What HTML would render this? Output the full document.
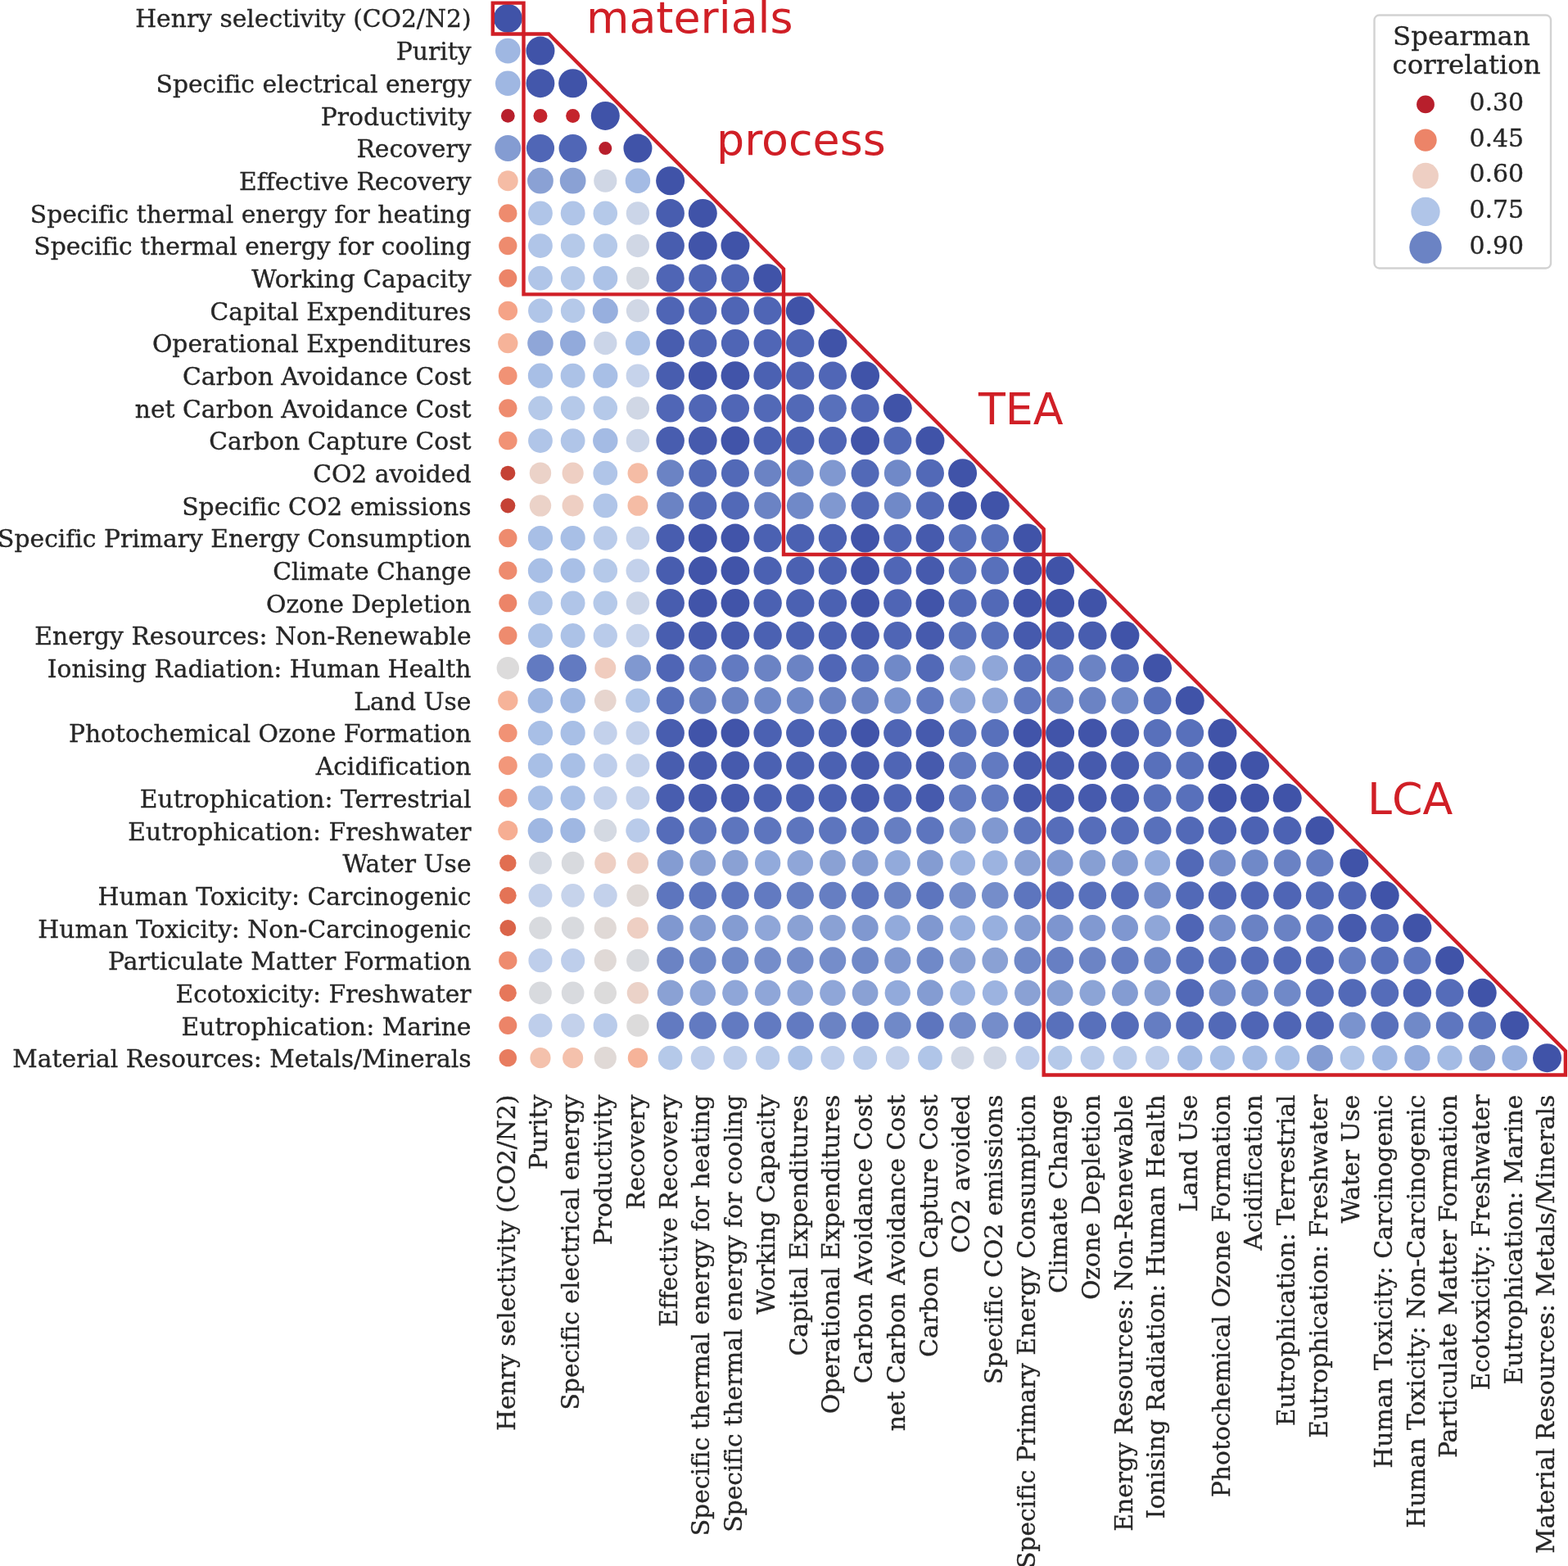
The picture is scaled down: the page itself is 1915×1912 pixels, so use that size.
<!DOCTYPE html>
<html lang="en"><head><meta charset="utf-8"><title>Spearman correlation matrix</title>
<style>html,body{margin:0;padding:0;background:#fff}body{width:1915px;height:1912px;overflow:hidden}svg{display:block}text{font-variant-ligatures:none;font-feature-settings:"liga" 0,"clig" 0;white-space:pre}.t{font-family:"DejaVu Serif","Liberation Serif",serif;font-size:29.78px;fill:#262626}.t text{stroke:#262626;stroke-width:0.35px}.r{font-family:"DejaVu Sans","Liberation Sans",sans-serif;font-size:53.8px;fill:#d01f26}.b{fill:none;stroke:#d01f26;stroke-width:4.4;stroke-linejoin:miter}</style></head><body>
<svg width="1915" height="1912" viewBox="0 0 1915 1912">
<rect width="1915" height="1912" fill="#ffffff"/>
<g>
<circle cx="620.30" cy="22.40" r="17.50" fill="#4053a8"/>
<circle cx="620.30" cy="62.06" r="15.33" fill="#9fb7e2"/>
<circle cx="659.96" cy="62.06" r="17.50" fill="#4053a8"/>
<circle cx="620.30" cy="101.73" r="15.33" fill="#9fb7e2"/>
<circle cx="659.96" cy="101.73" r="17.40" fill="#4357ab"/>
<circle cx="699.63" cy="101.73" r="17.50" fill="#4053a8"/>
<circle cx="620.30" cy="141.39" r="8.40" fill="#b81f2c"/>
<circle cx="659.96" cy="141.39" r="8.50" fill="#c4242c"/>
<circle cx="699.63" cy="141.39" r="8.50" fill="#c4242c"/>
<circle cx="739.29" cy="141.39" r="17.50" fill="#4053a8"/>
<circle cx="620.30" cy="181.06" r="15.98" fill="#849cd2"/>
<circle cx="659.96" cy="181.06" r="17.11" fill="#5066b6"/>
<circle cx="699.63" cy="181.06" r="17.11" fill="#5066b6"/>
<circle cx="739.29" cy="181.06" r="8.01" fill="#b81f2c"/>
<circle cx="778.96" cy="181.06" r="17.50" fill="#4053a8"/>
<circle cx="620.30" cy="220.72" r="12.44" fill="#f5bca5"/>
<circle cx="659.96" cy="220.72" r="15.87" fill="#8aa1d4"/>
<circle cx="699.63" cy="220.72" r="15.87" fill="#8aa1d4"/>
<circle cx="739.29" cy="220.72" r="14.08" fill="#d0d7e5"/>
<circle cx="778.96" cy="220.72" r="15.22" fill="#a4bbe4"/>
<circle cx="818.62" cy="220.72" r="17.50" fill="#4053a8"/>
<circle cx="620.30" cy="260.38" r="11.17" fill="#ee8b6e"/>
<circle cx="659.96" cy="260.38" r="14.89" fill="#b0c5e8"/>
<circle cx="699.63" cy="260.38" r="14.89" fill="#b0c5e8"/>
<circle cx="739.29" cy="260.38" r="14.78" fill="#b5c9e9"/>
<circle cx="778.96" cy="260.38" r="14.20" fill="#cbd5e8"/>
<circle cx="818.62" cy="260.38" r="17.30" fill="#485daf"/>
<circle cx="858.28" cy="260.38" r="17.50" fill="#4053a8"/>
<circle cx="620.30" cy="300.05" r="11.17" fill="#ee8b6e"/>
<circle cx="659.96" cy="300.05" r="14.89" fill="#b0c5e8"/>
<circle cx="699.63" cy="300.05" r="14.78" fill="#b5c9e9"/>
<circle cx="739.29" cy="300.05" r="14.78" fill="#b5c9e9"/>
<circle cx="778.96" cy="300.05" r="14.08" fill="#d0d7e5"/>
<circle cx="818.62" cy="300.05" r="17.30" fill="#485daf"/>
<circle cx="858.28" cy="300.05" r="17.45" fill="#4154a9"/>
<circle cx="897.95" cy="300.05" r="17.50" fill="#4053a8"/>
<circle cx="620.30" cy="339.71" r="11.02" fill="#ec8468"/>
<circle cx="659.96" cy="339.71" r="14.89" fill="#b0c5e8"/>
<circle cx="699.63" cy="339.71" r="14.78" fill="#b5c9e9"/>
<circle cx="739.29" cy="339.71" r="15.00" fill="#acc2e7"/>
<circle cx="778.96" cy="339.71" r="13.96" fill="#d4d9e2"/>
<circle cx="818.62" cy="339.71" r="17.13" fill="#4f65b5"/>
<circle cx="858.28" cy="339.71" r="17.13" fill="#4f65b5"/>
<circle cx="897.95" cy="339.71" r="17.13" fill="#4f65b5"/>
<circle cx="937.61" cy="339.71" r="17.50" fill="#4053a8"/>
<circle cx="620.30" cy="379.38" r="11.75" fill="#f5a387"/>
<circle cx="659.96" cy="379.38" r="14.89" fill="#b0c5e8"/>
<circle cx="699.63" cy="379.38" r="14.78" fill="#b5c9e9"/>
<circle cx="739.29" cy="379.38" r="15.55" fill="#97afde"/>
<circle cx="778.96" cy="379.38" r="14.08" fill="#d0d7e5"/>
<circle cx="818.62" cy="379.38" r="17.13" fill="#4f65b5"/>
<circle cx="858.28" cy="379.38" r="17.13" fill="#4f65b5"/>
<circle cx="897.95" cy="379.38" r="17.13" fill="#4f65b5"/>
<circle cx="937.61" cy="379.38" r="17.13" fill="#4f65b5"/>
<circle cx="977.28" cy="379.38" r="17.50" fill="#4053a8"/>
<circle cx="620.30" cy="419.04" r="12.17" fill="#f6b399"/>
<circle cx="659.96" cy="419.04" r="15.77" fill="#8fa6d8"/>
<circle cx="699.63" cy="419.04" r="15.66" fill="#92aadb"/>
<circle cx="739.29" cy="419.04" r="14.20" fill="#cbd5e8"/>
<circle cx="778.96" cy="419.04" r="15.00" fill="#acc2e7"/>
<circle cx="818.62" cy="419.04" r="17.30" fill="#485daf"/>
<circle cx="858.28" cy="419.04" r="17.13" fill="#4f65b5"/>
<circle cx="897.95" cy="419.04" r="17.13" fill="#4f65b5"/>
<circle cx="937.61" cy="419.04" r="17.11" fill="#5066b6"/>
<circle cx="977.28" cy="419.04" r="17.13" fill="#4f65b5"/>
<circle cx="1016.94" cy="419.04" r="17.50" fill="#4053a8"/>
<circle cx="620.30" cy="458.70" r="11.32" fill="#f19275"/>
<circle cx="659.96" cy="458.70" r="15.11" fill="#a8bfe6"/>
<circle cx="699.63" cy="458.70" r="15.00" fill="#acc2e7"/>
<circle cx="739.29" cy="458.70" r="15.11" fill="#a8bfe6"/>
<circle cx="778.96" cy="458.70" r="14.31" fill="#c6d3eb"/>
<circle cx="818.62" cy="458.70" r="17.30" fill="#485daf"/>
<circle cx="858.28" cy="458.70" r="17.45" fill="#4154a9"/>
<circle cx="897.95" cy="458.70" r="17.45" fill="#4154a9"/>
<circle cx="937.61" cy="458.70" r="17.20" fill="#4b61b2"/>
<circle cx="977.28" cy="458.70" r="17.13" fill="#4f65b5"/>
<circle cx="1016.94" cy="458.70" r="17.11" fill="#5066b6"/>
<circle cx="1056.60" cy="458.70" r="17.50" fill="#4053a8"/>
<circle cx="620.30" cy="498.37" r="11.17" fill="#ee8b6e"/>
<circle cx="659.96" cy="498.37" r="14.78" fill="#b5c9e9"/>
<circle cx="699.63" cy="498.37" r="14.78" fill="#b5c9e9"/>
<circle cx="739.29" cy="498.37" r="14.78" fill="#b5c9e9"/>
<circle cx="778.96" cy="498.37" r="14.08" fill="#d0d7e5"/>
<circle cx="818.62" cy="498.37" r="17.11" fill="#5066b6"/>
<circle cx="858.28" cy="498.37" r="17.11" fill="#5066b6"/>
<circle cx="897.95" cy="498.37" r="17.11" fill="#5066b6"/>
<circle cx="937.61" cy="498.37" r="17.06" fill="#5269b7"/>
<circle cx="977.28" cy="498.37" r="17.06" fill="#5269b7"/>
<circle cx="1016.94" cy="498.37" r="16.91" fill="#5870bb"/>
<circle cx="1056.60" cy="498.37" r="17.11" fill="#5066b6"/>
<circle cx="1096.27" cy="498.37" r="17.50" fill="#4053a8"/>
<circle cx="620.30" cy="538.03" r="11.32" fill="#f19275"/>
<circle cx="659.96" cy="538.03" r="14.89" fill="#b0c5e8"/>
<circle cx="699.63" cy="538.03" r="14.89" fill="#b0c5e8"/>
<circle cx="739.29" cy="538.03" r="15.22" fill="#a4bbe4"/>
<circle cx="778.96" cy="538.03" r="14.20" fill="#cbd5e8"/>
<circle cx="818.62" cy="538.03" r="17.30" fill="#485daf"/>
<circle cx="858.28" cy="538.03" r="17.35" fill="#465aad"/>
<circle cx="897.95" cy="538.03" r="17.45" fill="#4154a9"/>
<circle cx="937.61" cy="538.03" r="17.20" fill="#4b61b2"/>
<circle cx="977.28" cy="538.03" r="17.20" fill="#4b61b2"/>
<circle cx="1016.94" cy="538.03" r="17.13" fill="#4f65b5"/>
<circle cx="1056.60" cy="538.03" r="17.45" fill="#4154a9"/>
<circle cx="1096.27" cy="538.03" r="17.06" fill="#5269b7"/>
<circle cx="1135.93" cy="538.03" r="17.50" fill="#4053a8"/>
<circle cx="620.30" cy="577.70" r="9.05" fill="#c54235"/>
<circle cx="659.96" cy="577.70" r="13.22" fill="#ebd2c8"/>
<circle cx="699.63" cy="577.70" r="13.09" fill="#eecfc3"/>
<circle cx="739.29" cy="577.70" r="14.89" fill="#b0c5e8"/>
<circle cx="778.96" cy="577.70" r="12.44" fill="#f5bca5"/>
<circle cx="818.62" cy="577.70" r="16.50" fill="#6b83c4"/>
<circle cx="858.28" cy="577.70" r="17.06" fill="#5269b7"/>
<circle cx="897.95" cy="577.70" r="17.06" fill="#5269b7"/>
<circle cx="937.61" cy="577.70" r="16.50" fill="#6b83c4"/>
<circle cx="977.28" cy="577.70" r="16.40" fill="#7089c8"/>
<circle cx="1016.94" cy="577.70" r="16.09" fill="#8098d0"/>
<circle cx="1056.60" cy="577.70" r="17.06" fill="#5269b7"/>
<circle cx="1096.27" cy="577.70" r="16.40" fill="#7089c8"/>
<circle cx="1135.93" cy="577.70" r="17.06" fill="#5269b7"/>
<circle cx="1175.60" cy="577.70" r="17.50" fill="#4053a8"/>
<circle cx="620.30" cy="617.36" r="9.05" fill="#c54235"/>
<circle cx="659.96" cy="617.36" r="13.22" fill="#ebd2c8"/>
<circle cx="699.63" cy="617.36" r="13.09" fill="#eecfc3"/>
<circle cx="739.29" cy="617.36" r="14.89" fill="#b0c5e8"/>
<circle cx="778.96" cy="617.36" r="12.44" fill="#f5bca5"/>
<circle cx="818.62" cy="617.36" r="16.50" fill="#6b83c4"/>
<circle cx="858.28" cy="617.36" r="17.06" fill="#5269b7"/>
<circle cx="897.95" cy="617.36" r="17.06" fill="#5269b7"/>
<circle cx="937.61" cy="617.36" r="16.50" fill="#6b83c4"/>
<circle cx="977.28" cy="617.36" r="16.40" fill="#7089c8"/>
<circle cx="1016.94" cy="617.36" r="16.09" fill="#8098d0"/>
<circle cx="1056.60" cy="617.36" r="17.06" fill="#5269b7"/>
<circle cx="1096.27" cy="617.36" r="16.40" fill="#7089c8"/>
<circle cx="1135.93" cy="617.36" r="17.06" fill="#5269b7"/>
<circle cx="1175.60" cy="617.36" r="17.47" fill="#4053a8"/>
<circle cx="1215.26" cy="617.36" r="17.50" fill="#4053a8"/>
<circle cx="620.30" cy="657.02" r="11.17" fill="#ee8b6e"/>
<circle cx="659.96" cy="657.02" r="15.11" fill="#a8bfe6"/>
<circle cx="699.63" cy="657.02" r="15.11" fill="#a8bfe6"/>
<circle cx="739.29" cy="657.02" r="14.66" fill="#b9cbea"/>
<circle cx="778.96" cy="657.02" r="14.31" fill="#c6d3eb"/>
<circle cx="818.62" cy="657.02" r="17.30" fill="#485daf"/>
<circle cx="858.28" cy="657.02" r="17.45" fill="#4154a9"/>
<circle cx="897.95" cy="657.02" r="17.45" fill="#4154a9"/>
<circle cx="937.61" cy="657.02" r="17.20" fill="#4b61b2"/>
<circle cx="977.28" cy="657.02" r="17.20" fill="#4b61b2"/>
<circle cx="1016.94" cy="657.02" r="17.20" fill="#4b61b2"/>
<circle cx="1056.60" cy="657.02" r="17.45" fill="#4154a9"/>
<circle cx="1096.27" cy="657.02" r="17.11" fill="#5066b6"/>
<circle cx="1135.93" cy="657.02" r="17.35" fill="#465aad"/>
<circle cx="1175.60" cy="657.02" r="16.91" fill="#5870bb"/>
<circle cx="1215.26" cy="657.02" r="16.91" fill="#5870bb"/>
<circle cx="1254.92" cy="657.02" r="17.50" fill="#4053a8"/>
<circle cx="620.30" cy="696.69" r="11.17" fill="#ee8b6e"/>
<circle cx="659.96" cy="696.69" r="15.11" fill="#a8bfe6"/>
<circle cx="699.63" cy="696.69" r="15.11" fill="#a8bfe6"/>
<circle cx="739.29" cy="696.69" r="14.78" fill="#b5c9e9"/>
<circle cx="778.96" cy="696.69" r="14.43" fill="#c3d1eb"/>
<circle cx="818.62" cy="696.69" r="17.30" fill="#485daf"/>
<circle cx="858.28" cy="696.69" r="17.45" fill="#4154a9"/>
<circle cx="897.95" cy="696.69" r="17.45" fill="#4154a9"/>
<circle cx="937.61" cy="696.69" r="17.20" fill="#4b61b2"/>
<circle cx="977.28" cy="696.69" r="17.20" fill="#4b61b2"/>
<circle cx="1016.94" cy="696.69" r="17.20" fill="#4b61b2"/>
<circle cx="1056.60" cy="696.69" r="17.45" fill="#4154a9"/>
<circle cx="1096.27" cy="696.69" r="17.11" fill="#5066b6"/>
<circle cx="1135.93" cy="696.69" r="17.35" fill="#465aad"/>
<circle cx="1175.60" cy="696.69" r="16.91" fill="#5870bb"/>
<circle cx="1215.26" cy="696.69" r="16.91" fill="#5870bb"/>
<circle cx="1254.92" cy="696.69" r="17.45" fill="#4154a9"/>
<circle cx="1294.59" cy="696.69" r="17.50" fill="#4053a8"/>
<circle cx="620.30" cy="736.35" r="11.02" fill="#ec8468"/>
<circle cx="659.96" cy="736.35" r="14.89" fill="#b0c5e8"/>
<circle cx="699.63" cy="736.35" r="14.89" fill="#b0c5e8"/>
<circle cx="739.29" cy="736.35" r="14.78" fill="#b5c9e9"/>
<circle cx="778.96" cy="736.35" r="14.20" fill="#cbd5e8"/>
<circle cx="818.62" cy="736.35" r="17.30" fill="#485daf"/>
<circle cx="858.28" cy="736.35" r="17.45" fill="#4154a9"/>
<circle cx="897.95" cy="736.35" r="17.45" fill="#4154a9"/>
<circle cx="937.61" cy="736.35" r="17.20" fill="#4b61b2"/>
<circle cx="977.28" cy="736.35" r="17.20" fill="#4b61b2"/>
<circle cx="1016.94" cy="736.35" r="17.20" fill="#4b61b2"/>
<circle cx="1056.60" cy="736.35" r="17.45" fill="#4154a9"/>
<circle cx="1096.27" cy="736.35" r="17.13" fill="#4f65b5"/>
<circle cx="1135.93" cy="736.35" r="17.45" fill="#4154a9"/>
<circle cx="1175.60" cy="736.35" r="17.06" fill="#5269b7"/>
<circle cx="1215.26" cy="736.35" r="17.06" fill="#5269b7"/>
<circle cx="1254.92" cy="736.35" r="17.45" fill="#4154a9"/>
<circle cx="1294.59" cy="736.35" r="17.47" fill="#4053a8"/>
<circle cx="1334.25" cy="736.35" r="17.50" fill="#4053a8"/>
<circle cx="620.30" cy="776.02" r="11.17" fill="#ee8b6e"/>
<circle cx="659.96" cy="776.02" r="15.00" fill="#acc2e7"/>
<circle cx="699.63" cy="776.02" r="15.00" fill="#acc2e7"/>
<circle cx="739.29" cy="776.02" r="14.66" fill="#b9cbea"/>
<circle cx="778.96" cy="776.02" r="14.31" fill="#c6d3eb"/>
<circle cx="818.62" cy="776.02" r="17.30" fill="#485daf"/>
<circle cx="858.28" cy="776.02" r="17.35" fill="#465aad"/>
<circle cx="897.95" cy="776.02" r="17.35" fill="#465aad"/>
<circle cx="937.61" cy="776.02" r="17.20" fill="#4b61b2"/>
<circle cx="977.28" cy="776.02" r="17.20" fill="#4b61b2"/>
<circle cx="1016.94" cy="776.02" r="17.20" fill="#4b61b2"/>
<circle cx="1056.60" cy="776.02" r="17.35" fill="#465aad"/>
<circle cx="1096.27" cy="776.02" r="17.13" fill="#4f65b5"/>
<circle cx="1135.93" cy="776.02" r="17.35" fill="#465aad"/>
<circle cx="1175.60" cy="776.02" r="16.91" fill="#5870bb"/>
<circle cx="1215.26" cy="776.02" r="16.91" fill="#5870bb"/>
<circle cx="1254.92" cy="776.02" r="17.35" fill="#465aad"/>
<circle cx="1294.59" cy="776.02" r="17.30" fill="#485daf"/>
<circle cx="1334.25" cy="776.02" r="17.30" fill="#485daf"/>
<circle cx="1373.92" cy="776.02" r="17.50" fill="#4053a8"/>
<circle cx="620.30" cy="815.68" r="13.71" fill="#dcdbdb"/>
<circle cx="659.96" cy="815.68" r="16.70" fill="#627ac1"/>
<circle cx="699.63" cy="815.68" r="16.70" fill="#627ac1"/>
<circle cx="739.29" cy="815.68" r="12.96" fill="#f0ccbe"/>
<circle cx="778.96" cy="815.68" r="16.09" fill="#8098d0"/>
<circle cx="818.62" cy="815.68" r="17.13" fill="#4f65b5"/>
<circle cx="858.28" cy="815.68" r="16.70" fill="#627ac1"/>
<circle cx="897.95" cy="815.68" r="16.70" fill="#627ac1"/>
<circle cx="937.61" cy="815.68" r="16.50" fill="#6b83c4"/>
<circle cx="977.28" cy="815.68" r="16.50" fill="#6b83c4"/>
<circle cx="1016.94" cy="815.68" r="17.11" fill="#5066b6"/>
<circle cx="1056.60" cy="815.68" r="16.91" fill="#5870bb"/>
<circle cx="1096.27" cy="815.68" r="16.40" fill="#7089c8"/>
<circle cx="1135.93" cy="815.68" r="17.06" fill="#5269b7"/>
<circle cx="1175.60" cy="815.68" r="15.77" fill="#8fa6d8"/>
<circle cx="1215.26" cy="815.68" r="15.77" fill="#8fa6d8"/>
<circle cx="1254.92" cy="815.68" r="16.91" fill="#5870bb"/>
<circle cx="1294.59" cy="815.68" r="16.70" fill="#627ac1"/>
<circle cx="1334.25" cy="815.68" r="16.50" fill="#6b83c4"/>
<circle cx="1373.92" cy="815.68" r="17.06" fill="#5269b7"/>
<circle cx="1413.58" cy="815.68" r="17.50" fill="#4053a8"/>
<circle cx="620.30" cy="855.34" r="12.17" fill="#f6b399"/>
<circle cx="659.96" cy="855.34" r="15.33" fill="#9fb7e2"/>
<circle cx="699.63" cy="855.34" r="15.33" fill="#9fb7e2"/>
<circle cx="739.29" cy="855.34" r="13.34" fill="#e7d5ce"/>
<circle cx="778.96" cy="855.34" r="14.89" fill="#b0c5e8"/>
<circle cx="818.62" cy="855.34" r="16.91" fill="#5870bb"/>
<circle cx="858.28" cy="855.34" r="16.50" fill="#6b83c4"/>
<circle cx="897.95" cy="855.34" r="16.50" fill="#6b83c4"/>
<circle cx="937.61" cy="855.34" r="16.40" fill="#7089c8"/>
<circle cx="977.28" cy="855.34" r="16.40" fill="#7089c8"/>
<circle cx="1016.94" cy="855.34" r="16.50" fill="#6b83c4"/>
<circle cx="1056.60" cy="855.34" r="16.50" fill="#6b83c4"/>
<circle cx="1096.27" cy="855.34" r="16.19" fill="#7a93ce"/>
<circle cx="1135.93" cy="855.34" r="16.70" fill="#627ac1"/>
<circle cx="1175.60" cy="855.34" r="15.77" fill="#8fa6d8"/>
<circle cx="1215.26" cy="855.34" r="15.77" fill="#8fa6d8"/>
<circle cx="1254.92" cy="855.34" r="16.70" fill="#627ac1"/>
<circle cx="1294.59" cy="855.34" r="16.50" fill="#6b83c4"/>
<circle cx="1334.25" cy="855.34" r="16.50" fill="#6b83c4"/>
<circle cx="1373.92" cy="855.34" r="16.40" fill="#7089c8"/>
<circle cx="1413.58" cy="855.34" r="16.91" fill="#5870bb"/>
<circle cx="1453.24" cy="855.34" r="17.50" fill="#4053a8"/>
<circle cx="620.30" cy="895.01" r="11.32" fill="#f19275"/>
<circle cx="659.96" cy="895.01" r="15.11" fill="#a8bfe6"/>
<circle cx="699.63" cy="895.01" r="15.11" fill="#a8bfe6"/>
<circle cx="739.29" cy="895.01" r="14.43" fill="#c3d1eb"/>
<circle cx="778.96" cy="895.01" r="14.43" fill="#c3d1eb"/>
<circle cx="818.62" cy="895.01" r="17.30" fill="#485daf"/>
<circle cx="858.28" cy="895.01" r="17.45" fill="#4154a9"/>
<circle cx="897.95" cy="895.01" r="17.45" fill="#4154a9"/>
<circle cx="937.61" cy="895.01" r="17.20" fill="#4b61b2"/>
<circle cx="977.28" cy="895.01" r="17.20" fill="#4b61b2"/>
<circle cx="1016.94" cy="895.01" r="17.20" fill="#4b61b2"/>
<circle cx="1056.60" cy="895.01" r="17.45" fill="#4154a9"/>
<circle cx="1096.27" cy="895.01" r="17.13" fill="#4f65b5"/>
<circle cx="1135.93" cy="895.01" r="17.35" fill="#465aad"/>
<circle cx="1175.60" cy="895.01" r="16.91" fill="#5870bb"/>
<circle cx="1215.26" cy="895.01" r="16.91" fill="#5870bb"/>
<circle cx="1254.92" cy="895.01" r="17.45" fill="#4154a9"/>
<circle cx="1294.59" cy="895.01" r="17.45" fill="#4154a9"/>
<circle cx="1334.25" cy="895.01" r="17.45" fill="#4154a9"/>
<circle cx="1373.92" cy="895.01" r="17.30" fill="#485daf"/>
<circle cx="1413.58" cy="895.01" r="16.91" fill="#5870bb"/>
<circle cx="1453.24" cy="895.01" r="16.91" fill="#5870bb"/>
<circle cx="1492.91" cy="895.01" r="17.50" fill="#4053a8"/>
<circle cx="620.30" cy="934.67" r="11.46" fill="#f2977a"/>
<circle cx="659.96" cy="934.67" r="15.11" fill="#a8bfe6"/>
<circle cx="699.63" cy="934.67" r="15.11" fill="#a8bfe6"/>
<circle cx="739.29" cy="934.67" r="14.55" fill="#beceeb"/>
<circle cx="778.96" cy="934.67" r="14.43" fill="#c3d1eb"/>
<circle cx="818.62" cy="934.67" r="17.30" fill="#485daf"/>
<circle cx="858.28" cy="934.67" r="17.35" fill="#465aad"/>
<circle cx="897.95" cy="934.67" r="17.35" fill="#465aad"/>
<circle cx="937.61" cy="934.67" r="17.20" fill="#4b61b2"/>
<circle cx="977.28" cy="934.67" r="17.20" fill="#4b61b2"/>
<circle cx="1016.94" cy="934.67" r="17.20" fill="#4b61b2"/>
<circle cx="1056.60" cy="934.67" r="17.35" fill="#465aad"/>
<circle cx="1096.27" cy="934.67" r="17.13" fill="#4f65b5"/>
<circle cx="1135.93" cy="934.67" r="17.35" fill="#465aad"/>
<circle cx="1175.60" cy="934.67" r="16.70" fill="#627ac1"/>
<circle cx="1215.26" cy="934.67" r="16.70" fill="#627ac1"/>
<circle cx="1254.92" cy="934.67" r="17.35" fill="#465aad"/>
<circle cx="1294.59" cy="934.67" r="17.35" fill="#465aad"/>
<circle cx="1334.25" cy="934.67" r="17.35" fill="#465aad"/>
<circle cx="1373.92" cy="934.67" r="17.30" fill="#485daf"/>
<circle cx="1413.58" cy="934.67" r="16.91" fill="#5870bb"/>
<circle cx="1453.24" cy="934.67" r="16.91" fill="#5870bb"/>
<circle cx="1492.91" cy="934.67" r="17.47" fill="#4053a8"/>
<circle cx="1532.57" cy="934.67" r="17.50" fill="#4053a8"/>
<circle cx="620.30" cy="974.34" r="11.32" fill="#f19275"/>
<circle cx="659.96" cy="974.34" r="15.11" fill="#a8bfe6"/>
<circle cx="699.63" cy="974.34" r="15.11" fill="#a8bfe6"/>
<circle cx="739.29" cy="974.34" r="14.43" fill="#c3d1eb"/>
<circle cx="778.96" cy="974.34" r="14.43" fill="#c3d1eb"/>
<circle cx="818.62" cy="974.34" r="17.30" fill="#485daf"/>
<circle cx="858.28" cy="974.34" r="17.35" fill="#465aad"/>
<circle cx="897.95" cy="974.34" r="17.35" fill="#465aad"/>
<circle cx="937.61" cy="974.34" r="17.20" fill="#4b61b2"/>
<circle cx="977.28" cy="974.34" r="17.20" fill="#4b61b2"/>
<circle cx="1016.94" cy="974.34" r="17.20" fill="#4b61b2"/>
<circle cx="1056.60" cy="974.34" r="17.35" fill="#465aad"/>
<circle cx="1096.27" cy="974.34" r="17.13" fill="#4f65b5"/>
<circle cx="1135.93" cy="974.34" r="17.35" fill="#465aad"/>
<circle cx="1175.60" cy="974.34" r="16.70" fill="#627ac1"/>
<circle cx="1215.26" cy="974.34" r="16.70" fill="#627ac1"/>
<circle cx="1254.92" cy="974.34" r="17.35" fill="#465aad"/>
<circle cx="1294.59" cy="974.34" r="17.35" fill="#465aad"/>
<circle cx="1334.25" cy="974.34" r="17.35" fill="#465aad"/>
<circle cx="1373.92" cy="974.34" r="17.30" fill="#485daf"/>
<circle cx="1413.58" cy="974.34" r="16.91" fill="#5870bb"/>
<circle cx="1453.24" cy="974.34" r="16.91" fill="#5870bb"/>
<circle cx="1492.91" cy="974.34" r="17.47" fill="#4053a8"/>
<circle cx="1532.57" cy="974.34" r="17.47" fill="#4053a8"/>
<circle cx="1572.24" cy="974.34" r="17.50" fill="#4053a8"/>
<circle cx="620.30" cy="1014.00" r="12.03" fill="#f6ae93"/>
<circle cx="659.96" cy="1014.00" r="15.33" fill="#9fb7e2"/>
<circle cx="699.63" cy="1014.00" r="15.33" fill="#9fb7e2"/>
<circle cx="739.29" cy="1014.00" r="13.96" fill="#d4d9e2"/>
<circle cx="778.96" cy="1014.00" r="14.66" fill="#b9cbea"/>
<circle cx="818.62" cy="1014.00" r="17.01" fill="#556cb9"/>
<circle cx="858.28" cy="1014.00" r="16.81" fill="#5d75be"/>
<circle cx="897.95" cy="1014.00" r="16.81" fill="#5d75be"/>
<circle cx="937.61" cy="1014.00" r="16.81" fill="#5d75be"/>
<circle cx="977.28" cy="1014.00" r="16.81" fill="#5d75be"/>
<circle cx="1016.94" cy="1014.00" r="16.81" fill="#5d75be"/>
<circle cx="1056.60" cy="1014.00" r="16.91" fill="#5870bb"/>
<circle cx="1096.27" cy="1014.00" r="16.60" fill="#667ec2"/>
<circle cx="1135.93" cy="1014.00" r="16.81" fill="#5d75be"/>
<circle cx="1175.60" cy="1014.00" r="16.09" fill="#8098d0"/>
<circle cx="1215.26" cy="1014.00" r="16.09" fill="#8098d0"/>
<circle cx="1254.92" cy="1014.00" r="16.81" fill="#5d75be"/>
<circle cx="1294.59" cy="1014.00" r="16.98" fill="#566dba"/>
<circle cx="1334.25" cy="1014.00" r="16.98" fill="#566dba"/>
<circle cx="1373.92" cy="1014.00" r="17.01" fill="#556cb9"/>
<circle cx="1413.58" cy="1014.00" r="16.91" fill="#5870bb"/>
<circle cx="1453.24" cy="1014.00" r="17.06" fill="#5269b7"/>
<circle cx="1492.91" cy="1014.00" r="17.18" fill="#4c62b3"/>
<circle cx="1532.57" cy="1014.00" r="17.18" fill="#4c62b3"/>
<circle cx="1572.24" cy="1014.00" r="17.18" fill="#4c62b3"/>
<circle cx="1611.90" cy="1014.00" r="17.50" fill="#4053a8"/>
<circle cx="620.30" cy="1053.66" r="10.24" fill="#e16e51"/>
<circle cx="659.96" cy="1053.66" r="13.96" fill="#d4d9e2"/>
<circle cx="699.63" cy="1053.66" r="13.84" fill="#d8dade"/>
<circle cx="739.29" cy="1053.66" r="13.09" fill="#eecfc3"/>
<circle cx="778.96" cy="1053.66" r="13.09" fill="#eecfc3"/>
<circle cx="818.62" cy="1053.66" r="15.98" fill="#849cd2"/>
<circle cx="858.28" cy="1053.66" r="15.87" fill="#8aa1d4"/>
<circle cx="897.95" cy="1053.66" r="15.87" fill="#8aa1d4"/>
<circle cx="937.61" cy="1053.66" r="15.66" fill="#92aadb"/>
<circle cx="977.28" cy="1053.66" r="15.77" fill="#8fa6d8"/>
<circle cx="1016.94" cy="1053.66" r="15.87" fill="#8aa1d4"/>
<circle cx="1056.60" cy="1053.66" r="15.98" fill="#849cd2"/>
<circle cx="1096.27" cy="1053.66" r="15.66" fill="#92aadb"/>
<circle cx="1135.93" cy="1053.66" r="15.98" fill="#849cd2"/>
<circle cx="1175.60" cy="1053.66" r="15.44" fill="#9cb3e0"/>
<circle cx="1215.26" cy="1053.66" r="15.44" fill="#9cb3e0"/>
<circle cx="1254.92" cy="1053.66" r="15.87" fill="#8aa1d4"/>
<circle cx="1294.59" cy="1053.66" r="16.04" fill="#8199d1"/>
<circle cx="1334.25" cy="1053.66" r="15.94" fill="#879fd3"/>
<circle cx="1373.92" cy="1053.66" r="16.00" fill="#849cd2"/>
<circle cx="1413.58" cy="1053.66" r="15.63" fill="#93abdc"/>
<circle cx="1453.24" cy="1053.66" r="17.06" fill="#5269b7"/>
<circle cx="1492.91" cy="1053.66" r="16.27" fill="#768ecb"/>
<circle cx="1532.57" cy="1053.66" r="16.40" fill="#7089c8"/>
<circle cx="1572.24" cy="1053.66" r="16.53" fill="#6a82c4"/>
<circle cx="1611.90" cy="1053.66" r="16.65" fill="#657dc2"/>
<circle cx="1653.86" cy="1053.66" r="17.50" fill="#4053a8"/>
<circle cx="620.30" cy="1093.33" r="10.40" fill="#e47356"/>
<circle cx="659.96" cy="1093.33" r="14.43" fill="#c3d1eb"/>
<circle cx="699.63" cy="1093.33" r="14.31" fill="#c6d3eb"/>
<circle cx="739.29" cy="1093.33" r="14.43" fill="#c3d1eb"/>
<circle cx="778.96" cy="1093.33" r="13.59" fill="#e0d9d6"/>
<circle cx="818.62" cy="1093.33" r="16.81" fill="#5d75be"/>
<circle cx="858.28" cy="1093.33" r="16.81" fill="#5d75be"/>
<circle cx="897.95" cy="1093.33" r="16.81" fill="#5d75be"/>
<circle cx="937.61" cy="1093.33" r="16.70" fill="#627ac1"/>
<circle cx="977.28" cy="1093.33" r="16.60" fill="#667ec2"/>
<circle cx="1016.94" cy="1093.33" r="16.60" fill="#667ec2"/>
<circle cx="1056.60" cy="1093.33" r="16.81" fill="#5d75be"/>
<circle cx="1096.27" cy="1093.33" r="16.50" fill="#6b83c4"/>
<circle cx="1135.93" cy="1093.33" r="16.81" fill="#5d75be"/>
<circle cx="1175.60" cy="1093.33" r="16.29" fill="#758dca"/>
<circle cx="1215.26" cy="1093.33" r="16.29" fill="#758dca"/>
<circle cx="1254.92" cy="1093.33" r="16.81" fill="#5d75be"/>
<circle cx="1294.59" cy="1093.33" r="16.98" fill="#566dba"/>
<circle cx="1334.25" cy="1093.33" r="16.91" fill="#5870bb"/>
<circle cx="1373.92" cy="1093.33" r="17.01" fill="#556cb9"/>
<circle cx="1413.58" cy="1093.33" r="16.27" fill="#768ecb"/>
<circle cx="1453.24" cy="1093.33" r="17.06" fill="#5269b7"/>
<circle cx="1492.91" cy="1093.33" r="17.13" fill="#4f65b5"/>
<circle cx="1532.57" cy="1093.33" r="17.13" fill="#4f65b5"/>
<circle cx="1572.24" cy="1093.33" r="17.13" fill="#4f65b5"/>
<circle cx="1611.90" cy="1093.33" r="17.06" fill="#5269b7"/>
<circle cx="1651.56" cy="1093.33" r="17.13" fill="#4f65b5"/>
<circle cx="1691.23" cy="1093.33" r="17.50" fill="#4053a8"/>
<circle cx="620.30" cy="1132.99" r="9.92" fill="#da6449"/>
<circle cx="659.96" cy="1132.99" r="13.84" fill="#d8dade"/>
<circle cx="699.63" cy="1132.99" r="13.84" fill="#d8dade"/>
<circle cx="739.29" cy="1132.99" r="13.59" fill="#e0d9d6"/>
<circle cx="778.96" cy="1132.99" r="13.09" fill="#eecfc3"/>
<circle cx="818.62" cy="1132.99" r="16.09" fill="#8098d0"/>
<circle cx="858.28" cy="1132.99" r="15.98" fill="#849cd2"/>
<circle cx="897.95" cy="1132.99" r="15.98" fill="#849cd2"/>
<circle cx="937.61" cy="1132.99" r="15.77" fill="#8fa6d8"/>
<circle cx="977.28" cy="1132.99" r="15.87" fill="#8aa1d4"/>
<circle cx="1016.94" cy="1132.99" r="15.87" fill="#8aa1d4"/>
<circle cx="1056.60" cy="1132.99" r="16.09" fill="#8098d0"/>
<circle cx="1096.27" cy="1132.99" r="15.66" fill="#92aadb"/>
<circle cx="1135.93" cy="1132.99" r="16.09" fill="#8098d0"/>
<circle cx="1175.60" cy="1132.99" r="15.55" fill="#97afde"/>
<circle cx="1215.26" cy="1132.99" r="15.55" fill="#97afde"/>
<circle cx="1254.92" cy="1132.99" r="15.98" fill="#849cd2"/>
<circle cx="1294.59" cy="1132.99" r="16.14" fill="#7d95cf"/>
<circle cx="1334.25" cy="1132.99" r="16.04" fill="#8199d1"/>
<circle cx="1373.92" cy="1132.99" r="16.09" fill="#7f97d0"/>
<circle cx="1413.58" cy="1132.99" r="15.75" fill="#8fa6d8"/>
<circle cx="1453.24" cy="1132.99" r="17.13" fill="#4f65b5"/>
<circle cx="1492.91" cy="1132.99" r="16.27" fill="#768ecb"/>
<circle cx="1532.57" cy="1132.99" r="16.53" fill="#6a82c4"/>
<circle cx="1572.24" cy="1132.99" r="16.53" fill="#6a82c4"/>
<circle cx="1611.90" cy="1132.99" r="16.78" fill="#5e76bf"/>
<circle cx="1651.56" cy="1132.99" r="17.34" fill="#465aad"/>
<circle cx="1691.23" cy="1132.99" r="17.13" fill="#4f65b5"/>
<circle cx="1730.89" cy="1132.99" r="17.50" fill="#4053a8"/>
<circle cx="620.30" cy="1172.66" r="11.17" fill="#ee8b6e"/>
<circle cx="659.96" cy="1172.66" r="14.55" fill="#beceeb"/>
<circle cx="699.63" cy="1172.66" r="14.55" fill="#beceeb"/>
<circle cx="739.29" cy="1172.66" r="13.59" fill="#e0d9d6"/>
<circle cx="778.96" cy="1172.66" r="13.84" fill="#d8dade"/>
<circle cx="818.62" cy="1172.66" r="16.50" fill="#6b83c4"/>
<circle cx="858.28" cy="1172.66" r="16.40" fill="#7089c8"/>
<circle cx="897.95" cy="1172.66" r="16.40" fill="#7089c8"/>
<circle cx="937.61" cy="1172.66" r="16.29" fill="#758dca"/>
<circle cx="977.28" cy="1172.66" r="16.29" fill="#758dca"/>
<circle cx="1016.94" cy="1172.66" r="16.29" fill="#758dca"/>
<circle cx="1056.60" cy="1172.66" r="16.40" fill="#7089c8"/>
<circle cx="1096.27" cy="1172.66" r="16.09" fill="#8098d0"/>
<circle cx="1135.93" cy="1172.66" r="16.40" fill="#7089c8"/>
<circle cx="1175.60" cy="1172.66" r="15.87" fill="#8aa1d4"/>
<circle cx="1215.26" cy="1172.66" r="15.87" fill="#8aa1d4"/>
<circle cx="1254.92" cy="1172.66" r="16.40" fill="#7089c8"/>
<circle cx="1294.59" cy="1172.66" r="16.58" fill="#677fc3"/>
<circle cx="1334.25" cy="1172.66" r="16.46" fill="#6c84c5"/>
<circle cx="1373.92" cy="1172.66" r="16.65" fill="#657dc2"/>
<circle cx="1413.58" cy="1172.66" r="16.40" fill="#7089c8"/>
<circle cx="1453.24" cy="1172.66" r="16.91" fill="#5870bb"/>
<circle cx="1492.91" cy="1172.66" r="16.91" fill="#5870bb"/>
<circle cx="1532.57" cy="1172.66" r="17.01" fill="#556cb9"/>
<circle cx="1572.24" cy="1172.66" r="17.06" fill="#5269b7"/>
<circle cx="1611.90" cy="1172.66" r="17.13" fill="#4f65b5"/>
<circle cx="1651.56" cy="1172.66" r="16.65" fill="#657dc2"/>
<circle cx="1691.23" cy="1172.66" r="16.91" fill="#5870bb"/>
<circle cx="1730.89" cy="1172.66" r="16.78" fill="#5e76bf"/>
<circle cx="1770.56" cy="1172.66" r="17.50" fill="#4053a8"/>
<circle cx="620.30" cy="1212.32" r="10.56" fill="#e6775a"/>
<circle cx="659.96" cy="1212.32" r="13.84" fill="#d8dade"/>
<circle cx="699.63" cy="1212.32" r="13.84" fill="#d8dade"/>
<circle cx="739.29" cy="1212.32" r="13.71" fill="#dcdbdb"/>
<circle cx="778.96" cy="1212.32" r="13.22" fill="#ebd2c8"/>
<circle cx="818.62" cy="1212.32" r="15.87" fill="#8aa1d4"/>
<circle cx="858.28" cy="1212.32" r="15.77" fill="#8fa6d8"/>
<circle cx="897.95" cy="1212.32" r="15.77" fill="#8fa6d8"/>
<circle cx="937.61" cy="1212.32" r="15.77" fill="#8fa6d8"/>
<circle cx="977.28" cy="1212.32" r="15.77" fill="#8fa6d8"/>
<circle cx="1016.94" cy="1212.32" r="15.77" fill="#8fa6d8"/>
<circle cx="1056.60" cy="1212.32" r="15.87" fill="#8aa1d4"/>
<circle cx="1096.27" cy="1212.32" r="15.66" fill="#92aadb"/>
<circle cx="1135.93" cy="1212.32" r="15.98" fill="#849cd2"/>
<circle cx="1175.60" cy="1212.32" r="15.44" fill="#9cb3e0"/>
<circle cx="1215.26" cy="1212.32" r="15.44" fill="#9cb3e0"/>
<circle cx="1254.92" cy="1212.32" r="15.87" fill="#8aa1d4"/>
<circle cx="1294.59" cy="1212.32" r="15.94" fill="#879fd3"/>
<circle cx="1334.25" cy="1212.32" r="15.82" fill="#8ca4d6"/>
<circle cx="1373.92" cy="1212.32" r="16.00" fill="#849cd2"/>
<circle cx="1413.58" cy="1212.32" r="15.88" fill="#8aa1d4"/>
<circle cx="1453.24" cy="1212.32" r="17.06" fill="#5269b7"/>
<circle cx="1492.91" cy="1212.32" r="16.27" fill="#768ecb"/>
<circle cx="1532.57" cy="1212.32" r="16.40" fill="#7089c8"/>
<circle cx="1572.24" cy="1212.32" r="16.40" fill="#7089c8"/>
<circle cx="1611.90" cy="1212.32" r="17.01" fill="#556cb9"/>
<circle cx="1651.56" cy="1212.32" r="17.06" fill="#5269b7"/>
<circle cx="1691.23" cy="1212.32" r="17.01" fill="#556cb9"/>
<circle cx="1730.89" cy="1212.32" r="17.18" fill="#4c62b3"/>
<circle cx="1770.56" cy="1212.32" r="17.01" fill="#556cb9"/>
<circle cx="1810.22" cy="1212.32" r="17.50" fill="#4053a8"/>
<circle cx="620.30" cy="1251.98" r="11.02" fill="#ec8468"/>
<circle cx="659.96" cy="1251.98" r="14.55" fill="#beceeb"/>
<circle cx="699.63" cy="1251.98" r="14.43" fill="#c3d1eb"/>
<circle cx="739.29" cy="1251.98" r="14.66" fill="#b9cbea"/>
<circle cx="778.96" cy="1251.98" r="13.71" fill="#dcdbdb"/>
<circle cx="818.62" cy="1251.98" r="16.70" fill="#627ac1"/>
<circle cx="858.28" cy="1251.98" r="16.70" fill="#627ac1"/>
<circle cx="897.95" cy="1251.98" r="16.70" fill="#627ac1"/>
<circle cx="937.61" cy="1251.98" r="16.70" fill="#627ac1"/>
<circle cx="977.28" cy="1251.98" r="16.70" fill="#627ac1"/>
<circle cx="1016.94" cy="1251.98" r="16.50" fill="#6b83c4"/>
<circle cx="1056.60" cy="1251.98" r="16.81" fill="#5d75be"/>
<circle cx="1096.27" cy="1251.98" r="16.40" fill="#7089c8"/>
<circle cx="1135.93" cy="1251.98" r="16.81" fill="#5d75be"/>
<circle cx="1175.60" cy="1251.98" r="16.29" fill="#758dca"/>
<circle cx="1215.26" cy="1251.98" r="16.29" fill="#758dca"/>
<circle cx="1254.92" cy="1251.98" r="16.81" fill="#5d75be"/>
<circle cx="1294.59" cy="1251.98" r="16.91" fill="#5870bb"/>
<circle cx="1334.25" cy="1251.98" r="16.91" fill="#5870bb"/>
<circle cx="1373.92" cy="1251.98" r="17.01" fill="#556cb9"/>
<circle cx="1413.58" cy="1251.98" r="16.65" fill="#657dc2"/>
<circle cx="1453.24" cy="1251.98" r="17.01" fill="#556cb9"/>
<circle cx="1492.91" cy="1251.98" r="17.06" fill="#5269b7"/>
<circle cx="1532.57" cy="1251.98" r="17.13" fill="#4f65b5"/>
<circle cx="1572.24" cy="1251.98" r="17.13" fill="#4f65b5"/>
<circle cx="1611.90" cy="1251.98" r="17.13" fill="#4f65b5"/>
<circle cx="1651.56" cy="1251.98" r="16.18" fill="#7a93ce"/>
<circle cx="1691.23" cy="1251.98" r="16.91" fill="#5870bb"/>
<circle cx="1730.89" cy="1251.98" r="16.40" fill="#7089c8"/>
<circle cx="1770.56" cy="1251.98" r="16.78" fill="#5e76bf"/>
<circle cx="1810.22" cy="1251.98" r="16.91" fill="#5870bb"/>
<circle cx="1849.88" cy="1251.98" r="17.50" fill="#4053a8"/>
<circle cx="620.30" cy="1291.65" r="10.72" fill="#e87c5f"/>
<circle cx="659.96" cy="1291.65" r="12.57" fill="#f4c1ac"/>
<circle cx="699.63" cy="1291.65" r="12.57" fill="#f4c1ac"/>
<circle cx="739.29" cy="1291.65" r="13.59" fill="#e0d9d6"/>
<circle cx="778.96" cy="1291.65" r="12.17" fill="#f6b399"/>
<circle cx="818.62" cy="1291.65" r="14.78" fill="#b5c9e9"/>
<circle cx="858.28" cy="1291.65" r="14.55" fill="#beceeb"/>
<circle cx="897.95" cy="1291.65" r="14.55" fill="#beceeb"/>
<circle cx="937.61" cy="1291.65" r="14.66" fill="#b9cbea"/>
<circle cx="977.28" cy="1291.65" r="15.00" fill="#acc2e7"/>
<circle cx="1016.94" cy="1291.65" r="14.55" fill="#beceeb"/>
<circle cx="1056.60" cy="1291.65" r="14.66" fill="#b9cbea"/>
<circle cx="1096.27" cy="1291.65" r="14.43" fill="#c3d1eb"/>
<circle cx="1135.93" cy="1291.65" r="14.89" fill="#b0c5e8"/>
<circle cx="1175.60" cy="1291.65" r="14.08" fill="#d0d7e5"/>
<circle cx="1215.26" cy="1291.65" r="14.08" fill="#d0d7e5"/>
<circle cx="1254.92" cy="1291.65" r="14.55" fill="#beceeb"/>
<circle cx="1294.59" cy="1291.65" r="14.78" fill="#b5c9e9"/>
<circle cx="1334.25" cy="1291.65" r="14.66" fill="#b9cbea"/>
<circle cx="1373.92" cy="1291.65" r="14.66" fill="#b9cbea"/>
<circle cx="1413.58" cy="1291.65" r="14.55" fill="#beceeb"/>
<circle cx="1453.24" cy="1291.65" r="15.22" fill="#a4bbe4"/>
<circle cx="1492.91" cy="1291.65" r="15.11" fill="#a8bfe6"/>
<circle cx="1532.57" cy="1291.65" r="15.22" fill="#a4bbe4"/>
<circle cx="1572.24" cy="1291.65" r="15.11" fill="#a8bfe6"/>
<circle cx="1611.90" cy="1291.65" r="16.00" fill="#849cd2"/>
<circle cx="1651.56" cy="1291.65" r="14.89" fill="#b0c5e8"/>
<circle cx="1691.23" cy="1291.65" r="15.36" fill="#9eb6e2"/>
<circle cx="1730.89" cy="1291.65" r="15.63" fill="#93abdc"/>
<circle cx="1770.56" cy="1291.65" r="15.22" fill="#a4bbe4"/>
<circle cx="1810.22" cy="1291.65" r="15.88" fill="#8aa1d4"/>
<circle cx="1849.88" cy="1291.65" r="15.50" fill="#99b1df"/>
<circle cx="1889.55" cy="1291.65" r="17.50" fill="#4053a8"/>
</g>
<g>
<polygon class="b" points="601.8,3.6 639.5,3.6 639.5,41.5 601.8,41.5"/>
<polygon class="b" points="639.5,41.5 670.2,41.5 957.0,328.3 957.0,359.4 639.5,359.4"/>
<polygon class="b" points="957.0,359.4 988.1,359.4 1274.7,646.0 1274.7,677.0 957.0,677.0"/>
<polygon class="b" points="1274.7,677.0 1305.7,677.0 1911.9,1283.2 1911.9,1312.5 1274.7,1312.5"/>
</g>
<g class="r">
<text x="716" y="40.2">materials</text>
<text x="875" y="189.1">process</text>
<text x="1195" y="517.8">TEA</text>
<text x="1670" y="994">LCA</text>
</g>
<g class="t" text-anchor="end">
<text x="575.5" y="33.4">Henry selectivity (CO2/N2)</text>
<text x="575.5" y="73.1">Purity</text>
<text x="575.5" y="112.8">Specific electrical energy</text>
<text x="575.5" y="152.5">Productivity</text>
<text x="575.5" y="192.1">Recovery</text>
<text x="575.5" y="231.8">Effective Recovery</text>
<text x="575.5" y="271.5">Specific thermal energy for heating</text>
<text x="575.5" y="311.2">Specific thermal energy for cooling</text>
<text x="575.5" y="350.9">Working Capacity</text>
<text x="575.5" y="390.6">Capital Expenditures</text>
<text x="575.5" y="430.2">Operational Expenditures</text>
<text x="575.5" y="469.9">Carbon Avoidance Cost</text>
<text x="575.5" y="509.6">net Carbon Avoidance Cost</text>
<text x="575.5" y="549.3">Carbon Capture Cost</text>
<text x="575.5" y="589.0">CO2 avoided</text>
<text x="575.5" y="628.7">Specific CO2 emissions</text>
<text x="575.5" y="668.3">Specific Primary Energy Consumption</text>
<text x="575.5" y="708.0">Climate Change</text>
<text x="575.5" y="747.7">Ozone Depletion</text>
<text x="575.5" y="787.4">Energy Resources: Non-Renewable</text>
<text x="575.5" y="827.1">Ionising Radiation: Human Health</text>
<text x="575.5" y="866.8">Land Use</text>
<text x="575.5" y="906.4">Photochemical Ozone Formation</text>
<text x="575.5" y="946.1">Acidification</text>
<text x="575.5" y="985.8">Eutrophication: Terrestrial</text>
<text x="575.5" y="1025.5">Eutrophication: Freshwater</text>
<text x="575.5" y="1065.2">Water Use</text>
<text x="575.5" y="1104.9">Human Toxicity: Carcinogenic</text>
<text x="575.5" y="1144.6">Human Toxicity: Non-Carcinogenic</text>
<text x="575.5" y="1184.2">Particulate Matter Formation</text>
<text x="575.5" y="1223.9">Ecotoxicity: Freshwater</text>
<text x="575.5" y="1263.6">Eutrophication: Marine</text>
<text x="575.5" y="1303.3">Material Resources: Metals/Minerals</text>
</g>
<g class="t" text-anchor="end">
<text transform="translate(629.1,1336.6) rotate(-90)">Henry selectivity (CO2/N2)</text>
<text transform="translate(667.5,1336.6) rotate(-90)">Purity</text>
<text transform="translate(707.2,1336.6) rotate(-90)">Specific electrical energy</text>
<text transform="translate(747.0,1336.6) rotate(-90)">Productivity</text>
<text transform="translate(786.7,1336.6) rotate(-90)">Recovery</text>
<text transform="translate(826.5,1336.6) rotate(-90)">Effective Recovery</text>
<text transform="translate(866.2,1336.6) rotate(-90)">Specific thermal energy for heating</text>
<text transform="translate(906.0,1336.6) rotate(-90)">Specific thermal energy for cooling</text>
<text transform="translate(945.7,1336.6) rotate(-90)">Working Capacity</text>
<text transform="translate(985.5,1336.6) rotate(-90)">Capital Expenditures</text>
<text transform="translate(1025.2,1336.6) rotate(-90)">Operational Expenditures</text>
<text transform="translate(1065.0,1336.6) rotate(-90)">Carbon Avoidance Cost</text>
<text transform="translate(1104.7,1336.6) rotate(-90)">net Carbon Avoidance Cost</text>
<text transform="translate(1144.5,1336.6) rotate(-90)">Carbon Capture Cost</text>
<text transform="translate(1184.1,1336.6) rotate(-90)">CO2 avoided</text>
<text transform="translate(1223.8,1336.6) rotate(-90)">Specific CO2 emissions</text>
<text transform="translate(1263.5,1336.6) rotate(-90)">Specific Primary Energy Consumption</text>
<text transform="translate(1303.2,1336.6) rotate(-90)">Climate Change</text>
<text transform="translate(1342.9,1336.6) rotate(-90)">Ozone Depletion</text>
<text transform="translate(1382.6,1336.6) rotate(-90)">Energy Resources: Non-Renewable</text>
<text transform="translate(1422.2,1336.6) rotate(-90)">Ionising Radiation: Human Health</text>
<text transform="translate(1461.9,1336.6) rotate(-90)">Land Use</text>
<text transform="translate(1501.6,1336.6) rotate(-90)">Photochemical Ozone Formation</text>
<text transform="translate(1541.3,1336.6) rotate(-90)">Acidification</text>
<text transform="translate(1581.0,1336.6) rotate(-90)">Eutrophication: Terrestrial</text>
<text transform="translate(1620.7,1336.6) rotate(-90)">Eutrophication: Freshwater</text>
<text transform="translate(1660.3,1336.6) rotate(-90)">Water Use</text>
<text transform="translate(1700.0,1336.6) rotate(-90)">Human Toxicity: Carcinogenic</text>
<text transform="translate(1739.7,1336.6) rotate(-90)">Human Toxicity: Non-Carcinogenic</text>
<text transform="translate(1779.4,1336.6) rotate(-90)">Particulate Matter Formation</text>
<text transform="translate(1819.1,1336.6) rotate(-90)">Ecotoxicity: Freshwater</text>
<text transform="translate(1858.8,1336.6) rotate(-90)">Eutrophication: Marine</text>
<text transform="translate(1898.4,1336.6) rotate(-90)">Material Resources: Metals/Minerals</text>
</g>
<g>
<rect x="1678.5" y="18.5" width="215.5" height="309.0" rx="6" ry="6" fill="#ffffff" stroke="#d2d2d2" stroke-width="2.4"/>
<g class="t" style="font-size:32.4px">
<text x="1701" y="54.5">Spearman</text>
<text x="1700.5" y="90">correlation</text>
</g>
<g class="t" style="font-size:29.95px">
<circle cx="1741" cy="127.4" r="10.90" fill="#b81f2c"/>
<text x="1794.5" y="135.1">0.30</text>
<circle cx="1741" cy="171.1" r="13.70" fill="#ec8468"/>
<text x="1794.5" y="178.8">0.45</text>
<circle cx="1741" cy="214.7" r="15.85" fill="#eecfc3"/>
<text x="1794.5" y="222.4">0.60</text>
<circle cx="1741" cy="258.4" r="17.65" fill="#b0c5e8"/>
<text x="1794.5" y="266.1">0.75</text>
<circle cx="1741" cy="302.0" r="19.70" fill="#6b83c4"/>
<text x="1794.5" y="309.7">0.90</text>
</g>
</g>
</svg></body></html>
